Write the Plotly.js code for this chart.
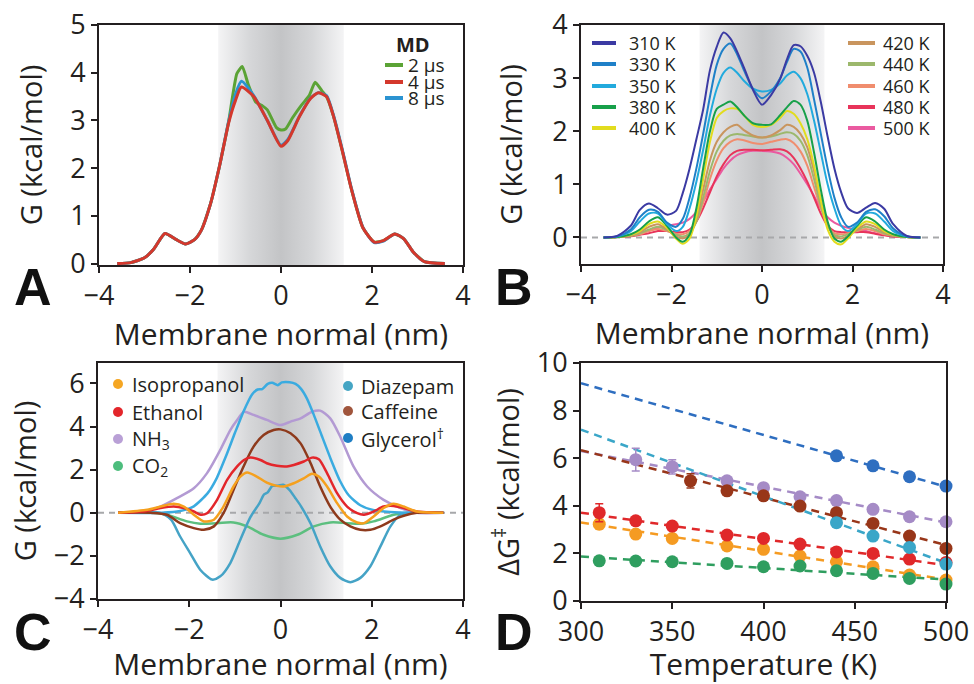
<!DOCTYPE html>
<html><head><meta charset="utf-8">
<script src="https://cdn.plot.ly/plotly-3.0.1.min.js"></script>
<style>html,body{margin:0;padding:0;background:#fff}#chart{width:974px;height:684px}</style>
</head><body><div id="chart"></div>
<script>
// ---------- Panel A : MD convergence ----------
const aNames = ['2 µs', '4 µs', '8 µs'];
const aColors = ['#5ba335', '#d4382c', '#2b93d1'];
const xA2 = [-3.6,-3.3,-3.0,-2.8,-2.55,-2.3,-2.1,-1.9,-1.75,-1.55,-1.35,-1.15,-0.97,-0.85,-0.72,-0.55,-0.4,-0.3,-0.1,0,0.1,0.25,0.45,0.62,0.75,0.9,1.0,1.15,1.35,1.55,1.8,2.05,2.25,2.5,2.7,2.9,3.15,3.6];
const gA2 = [0,0.02,0.12,0.3,0.63,0.5,0.41,0.5,0.7,1.25,2.05,2.98,3.98,4.13,3.75,3.38,3.3,3.22,2.85,2.8,2.82,3.05,3.32,3.52,3.8,3.62,3.5,3.1,2.35,1.55,0.75,0.45,0.48,0.62,0.52,0.25,0.04,0];
const xA = [-3.6,-3.3,-3.0,-2.8,-2.55,-2.3,-2.1,-1.9,-1.75,-1.55,-1.35,-1.15,-1.0,-0.87,-0.6,-0.3,0,0.15,0.4,0.65,0.82,1.0,1.15,1.35,1.55,1.8,2.05,2.25,2.5,2.7,2.9,3.15,3.6];
const gA4 = [0,0.02,0.12,0.3,0.63,0.5,0.41,0.5,0.7,1.25,2.05,2.95,3.42,3.70,3.5,3.0,2.46,2.58,3.07,3.46,3.58,3.5,3.1,2.35,1.55,0.75,0.45,0.48,0.62,0.52,0.25,0.04,0];
const gA8 = [0,0.02,0.12,0.3,0.63,0.5,0.41,0.5,0.7,1.25,2.05,2.98,3.55,3.82,3.52,3.0,2.48,2.6,3.08,3.47,3.58,3.52,3.12,2.38,1.57,0.76,0.44,0.47,0.62,0.52,0.25,0.04,0];

// ---------- Panel B : temperature dependence ----------
const xB = [-3.5,-3.2,-2.9,-2.7,-2.5,-2.3,-2.1,-1.9,-1.75,-1.6,-1.45,-1.3,-1.15,-1.0,-0.85,-0.7,-0.55,-0.4,-0.2,0,0.2,0.4,0.55,0.7,0.85,1.0,1.15,1.3,1.45,1.6,1.75,1.9,2.1,2.3,2.5,2.7,2.9,3.2,3.5];
const bNames = ['310 K','330 K','350 K','380 K','400 K','420 K','440 K','460 K','480 K','500 K'];
const bColors = ['#3b3aa3','#1f80c8','#22aadd','#17a04a','#e2dc1e','#c9955e','#9cb86c','#f08d6e','#e8345a','#ea5aa0'];
const gB310 = [0,0.03,0.22,0.52,0.64,0.55,0.43,0.5,0.84,1.3,1.85,2.41,3.15,3.59,3.86,3.75,3.5,3.2,2.78,2.5,2.68,2.98,3.35,3.62,3.6,3.42,3.1,2.55,1.9,1.3,0.85,0.55,0.46,0.56,0.65,0.54,0.25,0.03,0];
const gB330 = [0,0.02,0.15,0.38,0.52,0.48,0.28,0.2,0.35,0.75,1.3,1.95,2.65,3.25,3.55,3.65,3.45,3.15,2.8,2.62,2.75,3.0,3.3,3.55,3.5,3.2,2.6,1.95,1.3,0.75,0.38,0.2,0.28,0.48,0.53,0.4,0.17,0.02,0];
const gB350 = [0,0.02,0.12,0.3,0.45,0.45,0.25,0.12,0.2,0.55,1.05,1.65,2.3,2.8,3.1,3.2,3.1,2.95,2.8,2.75,2.78,2.9,3.05,3.12,3.0,2.7,2.2,1.6,1.0,0.55,0.22,0.12,0.25,0.45,0.45,0.3,0.12,0.02,0];
const gB380 = [0,0.01,0.06,0.15,0.3,0.38,0.22,0.0,-0.08,0.05,0.55,1.3,2.0,2.42,2.5,2.56,2.45,2.3,2.15,2.12,2.13,2.3,2.45,2.57,2.5,2.2,1.6,0.9,0.3,-0.02,-0.08,0.02,0.22,0.38,0.3,0.15,0.06,0.01,0];
const gB400 = [0,0.01,0.05,0.12,0.25,0.3,0.18,-0.02,-0.12,-0.02,0.4,1.1,1.8,2.25,2.38,2.43,2.42,2.3,2.12,2.08,2.12,2.25,2.38,2.33,2.15,1.85,1.35,0.7,0.15,-0.08,-0.13,-0.02,0.18,0.3,0.25,0.12,0.05,0.01,0];
const gB420 = [0,0.01,0.04,0.1,0.2,0.25,0.15,0.02,-0.02,0.05,0.35,0.9,1.45,1.8,1.98,2.08,2.12,2.02,1.92,1.88,1.92,2.02,2.12,2.08,1.95,1.7,1.25,0.7,0.25,0.02,-0.02,0.03,0.15,0.25,0.2,0.1,0.04,0.01,0];
const gB440 = [0,0.01,0.03,0.08,0.15,0.2,0.14,0.05,0.02,0.08,0.3,0.75,1.25,1.62,1.82,1.92,1.95,1.93,1.9,1.88,1.9,1.95,1.98,1.95,1.82,1.55,1.1,0.6,0.22,0.05,0.02,0.06,0.14,0.2,0.15,0.08,0.03,0.01,0];
const gB460 = [0,0.01,0.03,0.06,0.12,0.16,0.12,0.07,0.06,0.12,0.3,0.65,1.1,1.45,1.68,1.8,1.85,1.83,1.78,1.76,1.8,1.84,1.85,1.78,1.62,1.35,0.95,0.55,0.22,0.08,0.06,0.08,0.12,0.16,0.12,0.06,0.03,0.01,0];
const gB480 = [0,0.01,0.02,0.05,0.08,0.12,0.12,0.1,0.1,0.15,0.3,0.55,0.85,1.15,1.38,1.55,1.63,1.65,1.65,1.64,1.65,1.66,1.62,1.5,1.3,1.05,0.75,0.45,0.22,0.12,0.1,0.1,0.1,0.1,0.07,0.04,0.02,0.01,0];
const gB500 = [0,0.01,0.04,0.08,0.13,0.18,0.22,0.25,0.28,0.35,0.48,0.68,0.9,1.1,1.3,1.45,1.55,1.6,1.63,1.63,1.62,1.58,1.5,1.38,1.2,1.0,0.78,0.55,0.38,0.28,0.22,0.18,0.15,0.12,0.08,0.05,0.02,0.01,0];
const gBAll = [gB310,gB330,gB350,gB380,gB400,gB420,gB440,gB460,gB480,gB500];

// ---------- Panel C : different permeants ----------
const cNames = ['Isopropanol','Ethanol','NH<sub>3</sub>','CO<sub>2</sub>','Diazepam','Caffeine','Glycerol<sup>†</sup>'];
const cLineColors = ['#f5a01e','#e3262b','#b39ad3','#5cbf7f','#45a3c6','#8e3a1c','#3aabe0'];
const cLegendColors = ['#f5a623','#e3262b','#b9a0d6','#4dbd7d','#45a5c4','#a0553c','#1f7ec4'];
const xIso = [-3.56,-2.92,-2.63,-2.34,-2.12,-1.9,-1.68,-1.46,-1.25,-1.03,-0.88,-0.73,-0.52,-0.3,-0.08,0.07,0.29,0.51,0.69,0.84,1.02,1.24,1.46,1.68,1.83,2.04,2.26,2.48,2.7,2.99,3.57];
const gIso = [0,0.14,0.29,0.42,0.29,-0.09,-0.4,-0.32,0.29,1.22,1.68,1.87,1.68,1.4,1.25,1.22,1.37,1.6,1.81,1.68,1.22,0.45,-0.17,-0.45,-0.48,-0.17,0.22,0.42,0.29,0.06,0];
const xEth = [-3.56,-3.0,-2.63,-2.34,-2.12,-1.9,-1.75,-1.61,-1.39,-1.17,-0.95,-0.8,-0.66,-0.44,-0.3,-0.08,0.14,0.29,0.51,0.69,0.84,1.02,1.24,1.46,1.68,1.83,2.04,2.26,2.48,2.7,2.99,3.57];
const gEth = [0,0.06,0.22,0.29,0.22,0.06,-0.09,-0.02,0.6,1.53,2.15,2.45,2.56,2.45,2.3,2.18,2.15,2.22,2.38,2.56,2.48,1.84,0.91,0.29,-0.02,-0.09,0.06,0.29,0.32,0.22,0.06,0];
const xNH3 = [-3.56,-3.0,-2.63,-2.27,-1.9,-1.61,-1.32,-1.1,-0.95,-0.8,-0.59,-0.3,0,0.22,0.44,0.69,0.87,1.09,1.31,1.6,1.9,2.26,2.63,2.99,3.57];
const gNH3 = [0,0.06,0.29,0.68,1.14,1.84,2.92,3.84,4.3,4.69,4.54,4.31,4.07,4.23,4.38,4.69,4.74,4.38,3.53,2.15,1.22,0.6,0.22,0,0];
const xCO2 = [-3.56,-2.78,-2.49,-2.05,-1.76,-1.39,-1.03,-0.73,-0.37,0,0.37,0.73,1.09,1.46,1.75,2.04,2.48,2.78,3.57];
const gCO2 = [0,0,-0.09,-0.4,-0.51,-0.48,-0.45,-0.63,-1.02,-1.2,-1.02,-0.63,-0.45,-0.48,-0.51,-0.4,-0.09,0,0];
const xDia = [-3.55,-2.65,-2.4,-2.2,-1.98,-1.76,-1.5,-1.32,-1.1,-0.88,-0.66,-0.46,-0.36,-0.28,-0.18,-0.08,0.06,0.2,0.32,0.45,0.66,0.87,1.09,1.31,1.53,1.75,1.97,2.19,2.41,2.63,2.85,3.57];
const gDia = [0,0,-0.32,-1.1,-1.87,-2.64,-3.1,-2.95,-2.33,-1.25,-0.2,0.45,0.85,0.95,1.25,1.25,1.3,1.05,0.7,0.3,-0.5,-1.56,-2.48,-3.02,-3.22,-3.02,-2.48,-1.56,-0.63,-0.09,0,0];
const xCaf = [-3.56,-2.85,-2.49,-2.2,-1.9,-1.68,-1.46,-1.25,-1.03,-0.81,-0.59,-0.37,-0.15,0,0.22,0.44,0.66,0.87,1.09,1.31,1.53,1.75,1.97,2.19,2.48,2.7,2.99,3.57];
const gCaf = [0,0,-0.09,-0.48,-0.71,-0.79,-0.63,-0.02,1.06,2.15,3.07,3.61,3.84,3.87,3.69,3.22,2.3,1.22,0.29,-0.32,-0.63,-0.79,-0.79,-0.63,-0.32,-0.14,0,0];
const xGly = [-3.56,-2.6,-2.2,-1.9,-1.6,-1.4,-1.2,-1.0,-0.8,-0.62,-0.5,-0.4,-0.28,-0.18,-0.06,0.03,0.2,0.33,0.45,0.58,0.72,0.9,1.1,1.3,1.5,1.75,2.05,2.4,2.8,3.57];
const gGly = [0,0,0.08,0.3,0.9,1.6,2.6,3.7,4.75,5.5,5.72,5.74,5.98,6.03,5.92,6.05,6.06,5.98,5.75,5.3,4.6,3.6,2.5,1.5,0.8,0.35,0.12,0.04,0,0];

// ---------- Panel D : barrier vs temperature ----------
const tIso = [310,330,350,380,400,420,440,460,480,500];
const dIso = [3.23,2.81,2.63,2.31,2.17,1.89,1.65,1.44,1.09,0.88];
const eIso = [0.2,0,0,0,0,0,0,0,0,0];
const tEth = [310,330,350,380,400,420,440,460,480,500];
const dEth = [3.71,3.37,3.15,2.77,2.63,2.39,2.06,2.0,1.76,1.62];
const eEth = [0.38,0.12,0,0,0,0,0,0,0,0];
const tCO2 = [310,330,350,380,400,420,440,460,480,500];
const dCO2 = [1.69,1.68,1.65,1.58,1.44,1.47,1.27,1.16,0.95,0.71];
const eCO2 = [0,0,0,0,0,0,0,0,0,0];
const tNH3 = [330,350,380,400,420,440,460,480,500];
const dNH3 = [5.94,5.64,5.05,4.76,4.38,4.22,3.85,3.54,3.33];
const eNH3 = [0.48,0.3,0.15,0.1,0.15,0,0,0,0];
const tCaf = [360,380,400,420,440,460,480,500];
const dCaf = [5.05,4.63,4.42,3.99,3.71,3.26,2.73,2.21];
const eCaf = [0.3,0.18,0,0.12,0,0,0,0];
const tDia = [440,460,480,500];
const dDia = [3.29,2.73,2.25,1.55];
const eDia = [0,0,0,0];
const tGly = [440,460,480,500];
const dGly = [6.1,5.68,5.22,4.83];
const eGly = [0,0,0,0];
const tFit = [300,500];
const fIso = [3.3,0.9], fEth = [3.71,1.5], fCO2 = [1.87,0.9], fNH3 = [6.3,3.3], fCaf = [6.34,2.35], fDia = [7.2,1.6], fGly = [9.15,4.8];
const dMarkerColors = ['#f59b22','#e0282a','#2f9e5f','#a58bc6','#983619','#3aa6c8','#2e6ec0'];

// ---------- helpers (style only) ----------
const W = 974, H = 684;
const px = v => v / W, py = v => 1 - v / H;
const FONT = 'Open Sans, sans-serif';
const INK = '#231f20';
const BAND = 1.38;

const traces = [];
function band(xa, ya, y0, y1) {
  traces.push({x:[-BAND,BAND,BAND,-BAND,-BAND], y:[y0,y0,y1,y1,y0], xaxis:xa, yaxis:ya,
    mode:'none', fill:'toself', fillcolor:'#d4d5d7',
    fillgradient:{type:'horizontal', colorscale:[[0,'#f4f4f5'],[0.25,'#d6d7d9'],[0.5,'#c3c4c6'],[0.75,'#d6d7d9'],[1,'#f4f4f5']]},
    hoverinfo:'skip', showlegend:false});
}
function zeroLine(xa, ya) {
  traces.push({x:[-4,4], y:[0,0], xaxis:xa, yaxis:ya, mode:'lines',
    line:{color:'#a7a8aa', width:2, dash:'6px,5px'}, hoverinfo:'skip', showlegend:false});
}
function curve(x, y, color, width, xa, ya, smooth) {
  traces.push({x:x, y:y, xaxis:xa, yaxis:ya, mode:'lines', type:'scatter',
    line:{color:color, width:width, shape:'spline', smoothing:smooth}, hoverinfo:'skip', showlegend:false});
}

// Panel A
band('x','y',-0.05,5);
curve(xA2, gA2, aColors[0], 3, 'x','y',0.5);
curve(xA, gA8, aColors[2], 3, 'x','y',0.6);
curve(xA, gA4, aColors[1], 3, 'x','y',0.6);

// Panel B
band('x2','y2',-0.5,4);
zeroLine('x2','y2');
for (let i = gBAll.length - 1; i >= 0; i--) curve(xB, gBAll[i], bColors[i], 2, 'x2','y2',0.8);

// Panel C
band('x3','y3',-4,6.95);
zeroLine('x3','y3');
curve(xCO2, gCO2, cLineColors[3], 2.5, 'x3','y3',0.9);
curve(xNH3, gNH3, cLineColors[2], 2.5, 'x3','y3',0.7);
curve(xDia, gDia, cLineColors[4], 2.5, 'x3','y3',0.7);
curve(xGly, gGly, cLineColors[6], 2.5, 'x3','y3',0.6);
curve(xCaf, gCaf, cLineColors[5], 2.5, 'x3','y3',0.8);
curve(xEth, gEth, cLineColors[1], 2.5, 'x3','y3',0.7);
curve(xIso, gIso, cLineColors[0], 2.5, 'x3','y3',0.7);

// Panel D
const dSets = [[tIso,dIso,eIso,fIso],[tEth,dEth,eEth,fEth],[tCO2,dCO2,eCO2,fCO2],[tNH3,dNH3,eNH3,fNH3],[tCaf,dCaf,eCaf,fCaf],[tDia,dDia,eDia,fDia],[tGly,dGly,eGly,fGly]];
dSets.forEach((s, i) => {
  traces.push({x:tFit, y:s[3], xaxis:'x4', yaxis:'y4', mode:'lines',
    line:{color:dMarkerColors[i], width:2.5, dash:'8px,6px'}, hoverinfo:'skip', showlegend:false});
});
dSets.forEach((s, i) => {
  traces.push({x:s[0], y:s[1], xaxis:'x4', yaxis:'y4', mode:'markers', cliponaxis:false,
    marker:{color:dMarkerColors[i], size:13},
    error_y:{type:'data', array:s[2], visible:true, color:dMarkerColors[i], thickness:1.5, width:4},
    showlegend:false});
});

// ---------- axes ----------
function axis(extra) {
  return Object.assign({showline:true, linecolor:INK, linewidth:2, mirror:true, ticks:'outside',
    ticklen:6, tickwidth:2, tickcolor:INK, showgrid:false, zeroline:false,
    tickfont:{family:FONT, size:27, color:INK}}, extra);
}
const xTitle = {text:'Membrane normal (nm)', font:{family:FONT, size:30, color:INK}, standoff:6};
const gTitle = s => ({text:'G (kcal/mol)', font:{family:FONT, size:29, color:INK}, standoff:s});

// ---------- legends & labels (annotations/shapes) ----------
const annotations = [];
const shapes = [];
function txt(x, y, t, size, extra) {
  annotations.push(Object.assign({xref:'paper', yref:'paper', x:px(x), y:py(y), text:t, showarrow:false,
    xanchor:'left', yanchor:'middle', borderpad:0, font:{family:FONT, size:size, color:INK}}, extra || {}));
}
function lineSample(x0, x1, y, color, w) {
  shapes.push({type:'line', xref:'paper', yref:'paper', x0:px(x0), x1:px(x1), y0:py(y), y1:py(y), line:{color:color, width:w}});
}
function dot(x, y, color) {
  shapes.push({type:'circle', xref:'paper', yref:'paper', xsizemode:'pixel', ysizemode:'pixel',
    xanchor:px(x), yanchor:py(y), x0:-5, x1:5, y0:-5, y1:5, fillcolor:color, line:{width:0}});
}
// A legend
txt(413, 45, '<b>MD</b>', 20, {xanchor:'center'});
[65, 82, 98].forEach((yy, i) => { lineSample(385, 403, yy, aColors[i], 4); txt(407, yy, aNames[i], 19); });
// B legend
const bRows = [43, 64, 86, 107, 128];
for (let i = 0; i < 5; i++) { lineSample(592, 616, bRows[i], bColors[i], 4); txt(628, bRows[i], bNames[i], 18); }
for (let i = 5; i < 10; i++) { lineSample(848, 875, bRows[i-5], bColors[i], 4); txt(882, bRows[i-5], bNames[i], 18); }
// C legend
const cRowsL = [384, 412, 439, 466], cRowsR = [386, 411, 438];
for (let i = 0; i < 4; i++) { dot(118, cRowsL[i], cLegendColors[i]); txt(131, cRowsL[i], cNames[i], 20); }
for (let i = 4; i < 7; i++) { dot(348, cRowsR[i-4], cLegendColors[i]); txt(360, cRowsR[i-4], cNames[i], 20); }
// panel letters
[['A',33,287],['B',514,287],['C',33,632],['D',514,632]].forEach(l => {
  annotations.push({xref:'paper', yref:'paper', x:px(l[1]), y:py(l[2]), text:'<b>'+l[0]+'</b>', showarrow:false,
    xanchor:'center', yanchor:'middle', font:{family:'Liberation Sans, Arial, sans-serif', size:52, color:'#111'}});
});

const layout = {
  width: W, height: H, margin:{l:0, r:0, t:0, b:0}, paper_bgcolor:'#fff', plot_bgcolor:'rgba(0,0,0,0)',
  showlegend:false, font:{family:FONT, color:INK},
  xaxis: axis({domain:[px(99), px(463)], range:[-4,4], dtick:2, anchor:'y', title:xTitle}),
  yaxis: axis({domain:[py(265), py(25)], range:[-0.03,5], dtick:1, anchor:'x', title:gTitle(19)}),
  xaxis2: axis({domain:[px(581), px(943)], range:[-4,4], dtick:2, anchor:'y2', title:xTitle}),
  yaxis2: axis({domain:[py(264), py(25)], range:[-0.5,4], tickvals:[0,1,2,3,4], anchor:'x2', title:gTitle(21)}),
  xaxis3: axis({domain:[px(98), px(463)], range:[-4,4], dtick:2, anchor:'y3', title:xTitle}),
  yaxis3: axis({domain:[py(599), py(363)], range:[-4,6.95], tickvals:[-4,-2,0,2,4,6], anchor:'x3', title:gTitle(9)}),
  xaxis4: axis({domain:[px(581), px(946)], range:[300,500], dtick:50, anchor:'y4',
    title:{text:'Temperature (K)', font:{family:FONT, size:30, color:INK}, standoff:6}}),
  yaxis4: axis({domain:[py(601), py(363)], range:[0,10], dtick:2, anchor:'x4',
    title:{text:'ΔG<sup>‡</sup> (kcal/mol)', font:{family:FONT, size:29, color:INK}, standoff:9}}),
  annotations: annotations, shapes: shapes
};
Plotly.newPlot('chart', traces, layout, {staticPlot:true, displayModeBar:false});
</script></body></html>
